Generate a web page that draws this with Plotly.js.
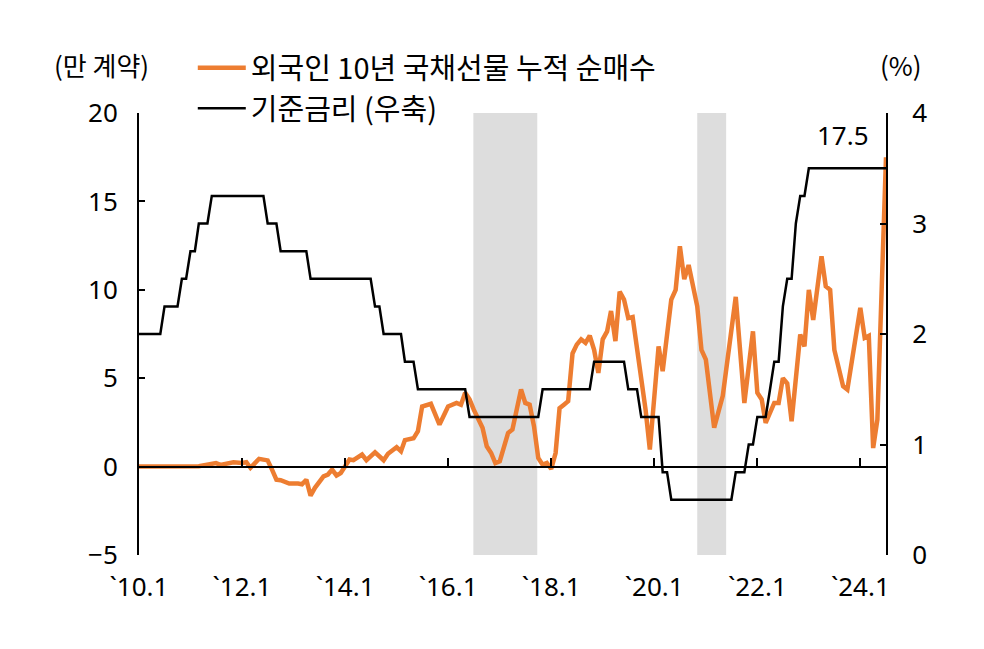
<!DOCTYPE html>
<html>
<head>
<meta charset="utf-8">
<script src="https://cdn.plot.ly/plotly-3.0.1.min.js"></script>
<style>
  html, body { margin: 0; padding: 0; background: #fff; }
  #chart { width: 984px; height: 649px; }
</style>
</head>
<body>
<div id="chart"></div>
<script>
// ---- data ----
const foreignDates = [
  '2010-01-01','2011-03-01','2011-07-01','2011-08-01','2011-11-01','2012-01-01','2012-02-01','2012-03-01',
  '2012-05-01','2012-07-01','2012-08-01','2012-09-01','2012-10-01','2012-12-01','2013-02-01','2013-03-01',
  '2013-04-01','2013-05-01','2013-06-01','2013-08-01','2013-09-01','2013-10-01','2013-11-01','2013-12-01',
  '2014-02-01','2014-03-01','2014-05-01','2014-06-01','2014-08-01','2014-10-01','2014-11-01','2015-01-01',
  '2015-02-01','2015-03-01','2015-05-01','2015-06-01','2015-07-01','2015-09-01','2015-11-01','2015-12-01',
  '2016-01-01','2016-03-01','2016-04-01','2016-05-01','2016-06-01','2016-07-01','2016-09-01','2016-10-01',
  '2016-11-01','2016-12-01','2017-01-01','2017-03-01','2017-04-01','2017-06-01','2017-07-01','2017-08-01',
  '2017-09-01','2017-10-01','2017-11-01','2017-12-01','2018-01-01','2018-02-01','2018-03-01','2018-04-01',
  '2018-05-01','2018-06-01','2018-07-01','2018-08-01','2018-09-01','2018-10-01','2018-11-01','2018-12-01',
  '2019-01-01','2019-02-01','2019-03-01','2019-04-01','2019-05-01','2019-06-01','2019-07-01','2019-08-01',
  '2019-10-01','2019-11-01','2019-12-01','2020-02-01','2020-03-01','2020-05-01','2020-06-01','2020-07-01',
  '2020-08-01','2020-09-01','2020-11-01','2020-12-01','2021-01-01','2021-03-01','2021-05-01','2021-06-01',
  '2021-08-01','2021-10-01','2021-12-01','2022-01-01','2022-02-01','2022-03-01','2022-05-01','2022-06-01',
  '2022-07-01','2022-08-01','2022-09-01','2022-11-01','2022-12-01','2023-01-01','2023-02-01','2023-04-01',
  '2023-05-01','2023-06-01','2023-07-01','2023-09-01','2023-10-01','2024-01-01','2024-02-01','2024-03-01',
  '2024-04-01','2024-05-01','2024-07-01'
];
const foreignValues = [
  0, 0.02, 0.2, 0.1, 0.25, 0.2, 0.25, -0.07,
  0.44, 0.35, -0.17, -0.74, -0.77, -0.96, -0.96, -1.0,
  -0.74, -1.64, -1.2, -0.55, -0.45, -0.17, -0.5, -0.36,
  0.4, 0.36, 0.68, 0.36, 0.81, 0.36, 0.73, 1.1,
  0.87, 1.5, 1.6, 2.0, 3.4, 3.55, 2.38, 2.85,
  3.4, 3.6, 3.5, 4.17, 3.8, 3.22, 2.2, 1.15,
  0.77, 0.2, 0.3, 1.9, 2.1, 4.36, 3.6, 3.5,
  2.28, 0.49, 0.11, 0.2, -0.13, 0.77, 3.3, 3.5,
  3.7, 6.4, 6.9, 7.2, 7.0, 7.4, 6.6, 5.3,
  7.2, 7.65, 8.8, 7.1, 9.9, 9.45, 8.4, 8.46,
  5.1, 3.2, 0.96, 6.8, 5.4, 9.45, 10.0, 12.46,
  10.6, 11.4, 9.07, 6.6, 6.05, 2.2, 4.0, 6.05,
  9.6, 3.6, 7.65, 4.17, 3.8, 2.47, 3.6, 3.6,
  5.0, 4.7, 2.56, 7.47, 6.8, 10.0, 8.3, 11.9,
  10.2, 10.0, 6.6, 4.55, 4.36, 8.98, 7.28, 7.4,
  1.05, 2.66, 17.5
];

const rateDates = [
  '2010-01-01','2010-06-01','2010-07-01','2010-10-01','2010-11-01','2010-12-01','2011-01-01','2011-02-01',
  '2011-03-01','2011-05-01','2011-06-01','2012-06-01','2012-07-01','2012-09-01','2012-10-01','2013-04-01',
  '2013-05-01','2014-07-01','2014-08-01','2014-09-01','2014-10-01','2015-02-01','2015-03-01','2015-05-01',
  '2015-06-01','2016-05-01','2016-06-01','2017-10-01','2017-11-01','2018-10-01','2018-11-01','2019-06-01',
  '2019-07-01','2019-09-01','2019-10-01','2020-02-01','2020-03-01','2020-04-01','2020-05-01','2021-07-01',
  '2021-08-01','2021-10-01','2021-11-01','2021-12-01','2022-01-01','2022-03-01','2022-04-01','2022-05-01',
  '2022-06-01','2022-07-01','2022-08-01','2022-09-01','2022-10-01','2022-11-01','2022-12-01','2023-01-01',
  '2024-07-01'
];
const rateValues = [
  2.00, 2.00, 2.25, 2.25, 2.50, 2.50, 2.75, 2.75,
  3.00, 3.00, 3.25, 3.25, 3.00, 3.00, 2.75, 2.75,
  2.50, 2.50, 2.25, 2.25, 2.00, 2.00, 1.75, 1.75,
  1.50, 1.50, 1.25, 1.25, 1.50, 1.50, 1.75, 1.75,
  1.50, 1.50, 1.25, 1.25, 0.75, 0.75, 0.50, 0.50,
  0.75, 0.75, 1.00, 1.00, 1.25, 1.25, 1.50, 1.75,
  1.75, 2.25, 2.50, 2.50, 3.00, 3.25, 3.25, 3.50,
  3.50
];

const shadeStarts = ['2016-06-28', '2020-11-01'];
const shadeEnds   = ['2017-09-24', '2021-05-25'];

const tickDates  = ['2010-01-01','2012-01-01','2014-01-01','2016-01-01','2018-01-01','2020-01-01','2022-01-01','2024-01-01'];
const tickLabels = ['`10.1','`12.1','`14.1','`16.1','`18.1','`20.1','`22.1','`24.1'];

const seriesNames = ['외국인 10년 국채선물 누적 순매수', '기준금리 (우축)'];
const lastLabel = '17.5';
const leftUnit = '(만 계약)';
const rightUnit = '(%)';

// ---- chart ----
const FONT = '"Noto Sans CJK KR", "Noto Sans", sans-serif';
const NUMFONT = '"Noto Sans", "Noto Sans CJK KR", sans-serif';
const TICK = 26;
const xRange = ['2010-01-01', '2024-07-01'];

const traces = [
  {
    x: foreignDates, y: foreignValues, name: seriesNames[0],
    type: 'scatter', mode: 'lines', xaxis: 'x', yaxis: 'y',
    line: { color: '#ED7D31', width: 4.5 },
    legendgroup: 'a', hoverinfo: 'x+y'
  },
  {
    x: rateDates, y: rateValues, name: seriesNames[1],
    type: 'scatter', mode: 'lines', xaxis: 'x2', yaxis: 'y2',
    line: { color: '#000000', width: 2.5 },
    legendgroup: 'b', hoverinfo: 'x+y'
  }
];

const shapes = shadeStarts.map((s, k) => ({
  type: 'rect', xref: 'x', yref: 'paper', x0: s, x1: shadeEnds[k], y0: 0, y1: 1,
  fillcolor: '#DDDDDD', line: { width: 0 }, layer: 'below'
}));

const layout = {
  width: 984, height: 649,
  margin: { l: 139, r: 98, t: 113, b: 94 },
  paper_bgcolor: '#ffffff', plot_bgcolor: 'rgba(0,0,0,0)',
  font: { family: FONT, size: TICK, color: '#000' },
  showlegend: true,
  legend: {
    x: 0.072, y: 1.16, xanchor: 'left', yanchor: 'top',
    bgcolor: 'rgba(0,0,0,0)', font: { family: FONT, size: 29, color: '#000' },
    tracegroupgap: 0, itemwidth: 48, traceorder: 'grouped'
  },
  xaxis: {
    type: 'date', range: xRange, anchor: 'free', position: 0.2,
    showgrid: false, zeroline: false,
    showline: true, linecolor: '#000', linewidth: 2.5,
    tickmode: 'array', tickvals: tickDates, ticktext: tickLabels,
    ticks: 'inside', ticklen: 8, tickwidth: 2, tickcolor: '#000',
    showticklabels: false
  },
  xaxis2: {
    type: 'date', range: xRange, overlaying: 'x', anchor: 'y2', side: 'bottom',
    showgrid: false, zeroline: false, showline: false,
    tickmode: 'array', tickvals: tickDates, ticktext: tickLabels,
    ticks: '', ticklabelstandoff: 14,
    tickfont: { family: NUMFONT, size: TICK, color: '#000' }
  },
  yaxis: {
    range: [-5, 20], tickmode: 'array', tickvals: [-5, 0, 5, 10, 15, 20],
    showgrid: false, zeroline: false,
    showline: true, linecolor: '#000', linewidth: 2,
    ticks: 'inside', ticklen: 6, tickwidth: 2, tickcolor: '#000',
    ticklabelstandoff: 14,
    tickfont: { family: NUMFONT, size: TICK, color: '#000' }
  },
  yaxis2: {
    range: [0, 4], tickmode: 'array', tickvals: [0, 1, 2, 3, 4],
    overlaying: 'y', side: 'right', anchor: 'x2',
    showgrid: false, zeroline: false,
    showline: true, linecolor: '#000', linewidth: 2,
    ticks: 'inside', ticklen: 6, tickwidth: 2, tickcolor: '#000',
    ticklabelstandoff: 19,
    tickfont: { family: NUMFONT, size: TICK, color: '#000' }
  },
  shapes: shapes,
  annotations: [
    { text: leftUnit, xref: 'paper', yref: 'paper', x: -0.05, y: 1.11, xanchor: 'center', yanchor: 'middle',
      showarrow: false, font: { family: FONT, size: TICK, color: '#000' } },
    { text: rightUnit, xref: 'paper', yref: 'paper', x: 1.02, y: 1.11, xanchor: 'center', yanchor: 'middle',
      showarrow: false, font: { family: FONT, size: TICK, color: '#000' } },
    { text: lastLabel, xref: 'x', yref: 'y',
      x: foreignDates[foreignDates.length - 1], y: foreignValues[foreignValues.length - 1],
      xanchor: 'right', yanchor: 'bottom', xshift: -15, yshift: 2,
      showarrow: false, font: { family: NUMFONT, size: TICK, color: '#000' } }
  ]
};

Plotly.newPlot('chart', traces, layout, { displayModeBar: false, staticPlot: true });
</script>
</body>
</html>
